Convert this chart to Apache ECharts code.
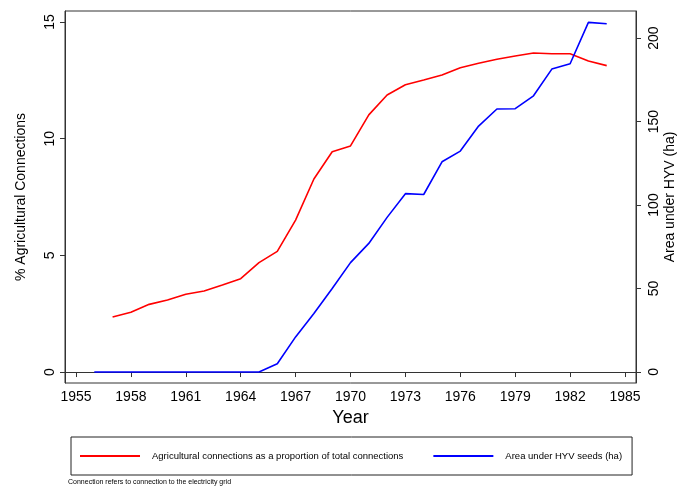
<!DOCTYPE html>
<html>
<head>
<meta charset="utf-8">
<script src="https://cdn.jsdelivr.net/npm/echarts@6/dist/echarts.min.js"></script>
<style>
  html, body { margin: 0; padding: 0; background: #fff; }
  #chart { width: 680px; height: 488px; }
</style>
</head>
<body>
<div id="chart"></div>
<script>
// Agricultural share of electricity connections (%), 1957-1984
const agriYears = [1957, 1958, 1959, 1960, 1961, 1962, 1963, 1964, 1965, 1966,
  1967, 1968, 1969, 1970, 1971, 1972, 1973, 1974, 1975, 1976,
  1977, 1978, 1979, 1980, 1981, 1982, 1983, 1984];
const agriShare = [2.36, 2.56, 2.90, 3.09, 3.33, 3.47, 3.73, 4.00, 4.69, 5.17,
  6.51, 8.27, 9.44, 9.69, 11.02, 11.87, 12.31, 12.51, 12.73, 13.04,
  13.23, 13.40, 13.54, 13.67, 13.64, 13.64, 13.33, 13.13];

// Area under high-yielding-variety seeds (ha), 1956-1984
const hyvYears = [1956, 1957, 1958, 1959, 1960, 1961, 1962, 1963, 1964, 1965,
  1966, 1967, 1968, 1969, 1970, 1971, 1972, 1973, 1974, 1975,
  1976, 1977, 1978, 1979, 1980, 1981, 1982, 1983, 1984];
const hyvArea = [0, 0, 0, 0, 0, 0, 0, 0, 0, 0,
  4.9, 21, 35, 50, 65.5, 77, 92.6, 106.8, 106.3, 125.9,
  132.3, 147.3, 157.5, 157.7, 165.4, 181.4, 184.6, 209.4, 208.6];

// Tick labels
const yearTicks = [1955, 1958, 1961, 1964, 1967, 1970, 1973, 1976, 1979, 1982, 1985];
const shareTicks = [0, 5, 10, 15];
const areaTicks = [0, 50, 100, 150, 200];

const names = {
  share: 'Agricultural connections as a proportion of total connections',
  area: 'Area under HYV seeds (ha)'
};

const FONT = '"Liberation Sans", Arial, Helvetica, sans-serif';
const axisColor = '#333';
const plain = v => String(v);

const chart = echarts.init(document.getElementById('chart'), null, { renderer: 'canvas' });

chart.setOption({
  animation: false,
  backgroundColor: '#fff',
  textStyle: { fontFamily: FONT },
  grid: {
    left: 65, right: 44, top: 11, height: 372,
    outerBoundsMode: 'none', containLabel: false,
    show: true, borderColor: axisColor, borderWidth: 1, backgroundColor: 'transparent'
  },
  xAxis: {
    type: 'value',
    min: 1954.4, max: 1985.6,
    name: 'Year', nameLocation: 'middle', nameGap: 23,
    nameTextStyle: { fontSize: 18, color: '#000', fontFamily: FONT },
    axisLine: { show: true, lineStyle: { color: axisColor, width: 1 } },
    axisTick: { show: true, length: 5, lineStyle: { color: axisColor }, customValues: yearTicks },
    axisLabel: { customValues: yearTicks, formatter: plain, fontSize: 14, color: '#000', margin: 7, fontFamily: FONT },
    splitLine: { show: false }
  },
  yAxis: [
    {
      type: 'value', position: 'left',
      min: -0.47, max: 15.47,
      name: '% Agricultural Connections', nameLocation: 'middle', nameGap: 37, nameRotate: 90,
      nameTextStyle: { fontSize: 14, color: '#000', fontFamily: FONT },
      axisLine: { show: true, lineStyle: { color: axisColor, width: 1 } },
      axisTick: { show: true, length: 5, lineStyle: { color: axisColor }, customValues: shareTicks },
      axisLabel: { customValues: shareTicks, formatter: plain, rotate: 90, fontSize: 14, color: '#000', margin: 8, fontFamily: FONT },
      splitLine: { show: false }
    },
    {
      type: 'value', position: 'right',
      min: -6.6, max: 216.2,
      name: 'Area under HYV (ha)', nameLocation: 'middle', nameGap: 27, nameRotate: 90,
      nameMoveOverlap: false,
      nameTextStyle: { fontSize: 14, color: '#000', fontFamily: FONT },
      axisLine: { show: true, lineStyle: { color: axisColor, width: 1 } },
      axisTick: { show: true, length: 5, lineStyle: { color: axisColor }, customValues: areaTicks },
      axisLabel: { customValues: areaTicks, formatter: plain, rotate: 90, fontSize: 14, color: '#000', margin: 11, fontFamily: FONT },
      splitLine: { show: false }
    }
  ],
  legend: {
    left: 71, top: 437,
    orient: 'horizontal',
    padding: [14, 10, 14, 9],
    borderColor: '#222', borderWidth: 1,
    itemGap: 30,
    itemWidth: 60, itemHeight: 2,
    icon: 'rect',
    textStyle: { fontSize: 9.5, color: '#000', fontFamily: FONT, padding: [0, 0, 0, 7] },
    data: [names.share, names.area]
  },
  graphic: [{
    type: 'text', left: 68, top: 479,
    style: { text: 'Connection refers to connection to the electricity grid', fontSize: 7, fill: '#000', fontFamily: FONT }
  }],
  series: [
    {
      name: names.share, type: 'line', yAxisIndex: 0,
      data: agriYears.map((y, i) => [y, agriShare[i]]),
      showSymbol: false, symbol: 'none',
      lineStyle: { color: '#ff0000', width: 1.6 },
      itemStyle: { color: '#ff0000' }
    },
    {
      name: names.area, type: 'line', yAxisIndex: 1,
      data: hyvYears.map((y, i) => [y, hyvArea[i]]),
      showSymbol: false, symbol: 'none',
      lineStyle: { color: '#0000ff', width: 1.6 },
      itemStyle: { color: '#0000ff' }
    }
  ]
});
</script>
</body>
</html>
